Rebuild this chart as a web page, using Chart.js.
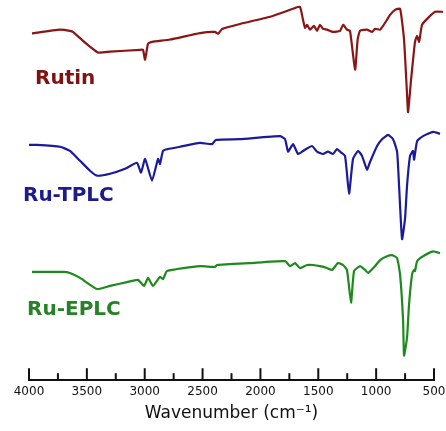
<!DOCTYPE html>
<html>
<head>
<meta charset="utf-8">
<script src="https://cdn.jsdelivr.net/npm/chart.js@4/dist/chart.umd.min.js"></script>
<style>
  html, body { margin: 0; padding: 0; background: #fff; }
  #wrap { width: 446px; height: 431px; }
</style>
</head>
<body>
<div id="wrap"><canvas id="ftir"></canvas></div>
<script>
// wavenumber (cm-1) and stacked transmittance (a.u.)
const rutinWn = [3974, 3732, 3646, 3620, 3516, 3404, 3300, 3041, 3015, 2997, 2971, 2937, 2781, 2522, 2392, 2366, 2331, 2176, 1916, 1701, 1658, 1632, 1615, 1597, 1572, 1537, 1511, 1485, 1459, 1424, 1373, 1312, 1286, 1252, 1226, 1182, 1160, 1139, 1079, 1035, 1010, 966, 940, 906, 880, 837, 793, 759, 733, 724, 698, 681, 664, 646, 629, 603, 551, 491, 422];
const rutinT = [91.2, 92.2, 91.9, 91.6, 88.8, 86.2, 86.4, 86.9, 86.9, 84.3, 88.5, 89.0, 89.6, 91.3, 91.6, 91.1, 92.4, 93.7, 95.6, 97.9, 98.2, 94.8, 92.7, 93.5, 92.2, 93.2, 91.9, 93.5, 92.4, 92.2, 91.6, 91.9, 93.5, 92.2, 91.9, 81.7, 89.6, 91.9, 92.2, 91.6, 92.4, 92.2, 93.2, 94.8, 96.1, 97.4, 97.7, 89.6, 75.2, 70.5, 79.1, 84.3, 89.0, 90.6, 89.0, 93.5, 95.3, 96.9, 96.9];

const tplcWn = [4000, 3931, 3732, 3646, 3559, 3473, 3412, 3300, 3170, 3067, 3032, 2997, 2937, 2885, 2868, 2842, 2799, 2695, 2522, 2418, 2384, 2176, 1831, 1787, 1761, 1718, 1675, 1632, 1554, 1511, 1459, 1416, 1373, 1338, 1312, 1269, 1234, 1200, 1156, 1122, 1079, 1053, 992, 949, 897, 854, 819, 802, 776, 750, 733, 707, 681, 672, 646, 595, 508, 448];
const tplcT = [61.9, 61.9, 61.4, 60.3, 57.7, 55.1, 53.8, 54.3, 55.6, 57.2, 54.6, 58.2, 52.5, 58.2, 56.9, 60.3, 60.8, 61.4, 62.4, 62.1, 63.2, 63.4, 64.2, 63.4, 60.1, 62.1, 59.5, 60.3, 61.6, 60.1, 59.5, 60.1, 59.5, 60.8, 60.1, 59.0, 49.1, 58.2, 60.3, 59.0, 55.4, 57.4, 61.6, 63.4, 64.5, 63.4, 60.1, 51.2, 37.1, 42.6, 51.2, 59.0, 60.3, 58.0, 62.9, 64.2, 65.3, 64.8];

const eplcWn = [3974, 3706, 3646, 3559, 3412, 3300, 3153, 3058, 3006, 2971, 2928, 2868, 2842, 2807, 2522, 2392, 2375, 2090, 1787, 1744, 1701, 1658, 1597, 1545, 1485, 1424, 1381, 1329, 1286, 1252, 1217, 1191, 1139, 1096, 1070, 1010, 966, 906, 863, 819, 793, 767, 759, 733, 716, 690, 672, 664, 646, 595, 508, 448];
const eplcT = [28.5, 28.5, 28.2, 26.9, 24.0, 24.8, 25.8, 26.4, 24.8, 26.9, 24.8, 27.2, 26.6, 28.7, 30.0, 29.8, 30.3, 30.8, 31.3, 30.0, 30.8, 29.5, 30.3, 30.3, 30.0, 29.5, 29.0, 30.8, 30.3, 29.0, 20.4, 28.7, 30.0, 29.0, 28.2, 30.0, 31.6, 32.6, 32.9, 32.1, 27.7, 15.7, 6.5, 11.2, 19.8, 27.7, 29.0, 28.7, 31.3, 32.6, 33.9, 33.4];

const seriesNames = ["Rutin", "Ru-TPLC", "Ru-EPLC"];
const tickLabels = ["4000", "3500", "3000", "2500", "2000", "1500", "1000", "500"];

const colors = ["rgb(139,20,20)", "rgb(26,26,156)", "rgb(30,138,30)"];
const labelColors = ["rgb(128,18,18)", "rgb(28,28,140)", "rgb(38,130,38)"];

const toPoints = (wn, t) => wn.map((x, i) => ({ x: x, y: t[i] }));

const makeSet = (name, wn, t, i) => ({
    label: name,
    data: toPoints(wn, t),
    borderColor: colors[i],
    borderWidth: 2.2,
    pointRadius: 0,
    tension: 0.15,
    fill: false,
    clip: false,
});

// names drawn next to each trace, anchored in data space
const nameSpots = [
    { x: 3948, y: 79.4 },
    { x: 4052, y: 48.4 },
    { x: 4017, y: 18.6 },
];

const inwardTicks = {
    id: "inwardTicks",
    afterDraw(chart) {
        const ctx = chart.ctx;
        const xs = chart.scales.x;
        const ys = chart.scales.y;
        const bottom = chart.chartArea.bottom;
        ctx.save();
        ctx.strokeStyle = "#111";
        ctx.lineWidth = 2;
        for (const t of xs.ticks) {
            const px = xs.getPixelForValue(t.value);
            const len = t.value % 500 === 0 ? 12 : 7;
            ctx.beginPath();
            ctx.moveTo(px, bottom);
            ctx.lineTo(px, bottom - len);
            ctx.stroke();
        }
        ctx.font = "bold 20px 'DejaVu Sans'";
        ctx.textBaseline = "middle";
        ctx.textAlign = "left";
        seriesNames.forEach((name, i) => {
            ctx.fillStyle = labelColors[i];
            ctx.fillText(name, xs.getPixelForValue(nameSpots[i].x), ys.getPixelForValue(nameSpots[i].y));
        });
        ctx.restore();
    },
};

const ctx = document.getElementById("ftir").getContext("2d");

let ftirChart = new Chart(ctx, {
    type: "line",
    data: {
        datasets: [
            makeSet(seriesNames[0], rutinWn, rutinT, 0),
            makeSet(seriesNames[1], tplcWn, tplcT, 1),
            makeSet(seriesNames[2], eplcWn, eplcT, 2),
        ],
    },
    options: {
        responsive: true,
        maintainAspectRatio: false,
        animation: false,
        layout: { padding: { left: 29, right: 12, top: 0, bottom: 7 } },
        plugins: {
            legend: { display: false },
            tooltip: { enabled: false },
        },
        scales: {
            x: {
                type: "linear",
                reverse: true,
                min: 500,
                max: 4000,
                afterFit: (scale) => {
                    scale.paddingLeft = 0;
                    scale.paddingRight = 0;
                },
                grid: { display: true, drawOnChartArea: false, drawTicks: false },
                border: { display: true, color: "#111", width: 2 },
                ticks: {
                    stepSize: 250,
                    autoSkip: false,
                    maxRotation: 0,
                    padding: 4,
                    color: "#111",
                    font: { family: "'DejaVu Sans'", size: 12 },
                    callback: (v) => (v % 500 === 0 ? tickLabels[(4000 - v) / 500] : ""),
                },
                title: {
                    display: true,
                    text: "Wavenumber (cm⁻¹)",
                    color: "#111",
                    padding: { top: 1, bottom: 0 },
                    font: { family: "'DejaVu Sans'", size: 17 },
                },
            },
            y: {
                display: false,
                min: 0,
                max: 100,
            },
        },
    },
    plugins: [inwardTicks],
});
</script>
</body>
</html>
